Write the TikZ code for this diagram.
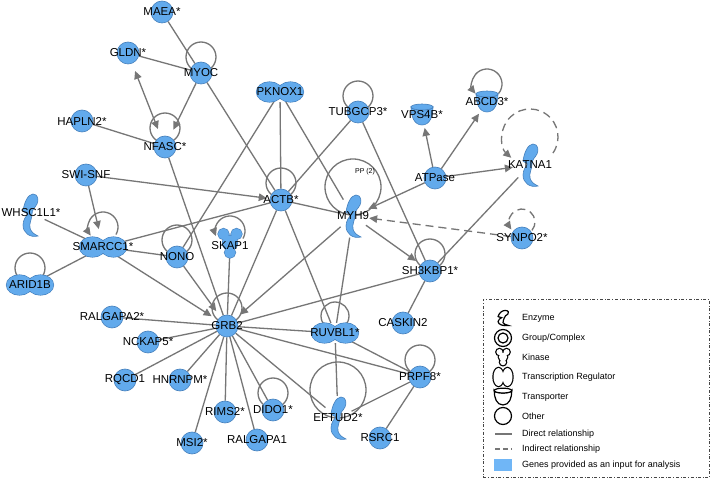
\documentclass[tikz,border=0pt]{standalone}
\usepackage{fontspec}
\setmainfont{Liberation Sans}
\usepackage{tikz}
\usetikzlibrary{arrows.meta,shapes.geometric,backgrounds}
\definecolor{gene-blue}{RGB}{98,170,236}
\definecolor{gene-rim}{RGB}{70,128,188}
\definecolor{link-gray}{RGB}{118,118,118}
\definecolor{key-blue}{RGB}{112,182,246}
\tikzset{
    gene-text/.style = {font=\fontsize{11.5}{12}\selectfont, inner sep=0pt,
        execute at begin node={\hbox to 0pt\bgroup\hss}, execute at end node={\hss\egroup}},
    gene-node/.style = {gene-text, circle, minimum size=22pt, fill=gene-blue, draw=gene-rim, line width=0.6pt},
    plain-node/.style = {gene-text, circle, minimum size=22pt},
    wide-node/.style = {gene-text, ellipse, minimum width=46pt, minimum height=20pt},
    tall-node/.style = {gene-text, ellipse, minimum width=28pt, minimum height=44pt},
    link/.style = {draw=link-gray, line width=1.3pt},
    acts/.style = {link, -{Triangle[length=8pt,width=7.5pt]}, shorten >=5pt},
    mutual/.style = {link, {Triangle[length=8pt,width=7.5pt]}-{Triangle[length=8pt,width=7.5pt]}, shorten >=8pt, shorten <=8pt},
    indirect/.style = {dash pattern=on 8pt off 5pt},
    key-text/.style = {font=\fontsize{9}{10}\selectfont, inner sep=0pt, anchor=west},
    shape-body/.style = {fill=gene-blue, draw=gene-rim, line width=0.6pt},
    shape-rim/.style = {draw=gene-rim, line width=1.2pt},
    shape-fill/.style = {fill=gene-blue},
    pics/enzyme/.style = {code={
        \path[shape-body] (-7,4) .. controls (-6,12) and (-2,21) .. (3,21)
            .. controls (8,21) and (9,15) .. (7,11) .. controls (5,7) and (2,6) .. (2,1)
            .. controls (2,-4) and (-1,-8) .. (0,-13) .. controls (1,-17) and (4,-19) .. (8,-21)
            .. controls (0,-23) and (-7,-18) .. (-7,-10) .. controls (-7,-5) and (-4,-1) .. (-2,1)
            .. controls (-4,2) and (-6,3) .. (-7,4) -- cycle;
    }},
    pics/transreg/.style = {code={
        \path[shape-rim] (-10.5,0) ellipse[x radius=13, y radius=10] (10.5,0) ellipse[x radius=13, y radius=10];
        \path[shape-fill] (-10.5,0) ellipse[x radius=13, y radius=10] (10.5,0) ellipse[x radius=13, y radius=10];
    }},
    pics/kinase/.style = {code={
        \path[shape-rim] (-6.5,9) circle[radius=5.5] (6.5,9) circle[radius=5.5] (0,-9.5) circle[radius=5.5] (0,0) circle[radius=7.5];
        \path[shape-fill] (-6.5,9) circle[radius=5.5] (6.5,9) circle[radius=5.5] (0,-9.5) circle[radius=5.5] (0,0) circle[radius=7.5];
    }},
    pics/transporter/.style = {code={
        \path[shape-body] (-11,8) .. controls (-11,-1) and (-8,-10) .. (0,-10) .. controls (8,-10) and (11,-1) .. (11,8)
            arc[start angle=0, end angle=-180, x radius=11, y radius=3] -- cycle;
        \path[shape-body] (0,8) ellipse[x radius=11, y radius=3];
    }},
}

\begin{document}
\begin{tikzpicture}[x=1pt, y=1pt]
\useasboundingbox (0,0) rectangle (710,-478);

% molecule shapes other than circles
\pic at (280,-92) {transreg};
\pic at (103,-247) {transreg};
\pic at (30,-285) {transreg};
\pic at (335,-333) {transreg};
\pic at (353,-216) {enzyme};
\pic at (530,-165) {enzyme};
\pic at (30,-215) {enzyme};
\pic at (338,-418) {enzyme};
\pic at (230,-243) {kinase};
\pic at (422,-115) {transporter};
\pic at (487,-102) {transporter};

% genes
\node[gene-node] (maea) at (162,-12) {MAEA*};
\node[gene-node] (gldn) at (128,-53) {GLDN*};
\node[gene-node] (myoc) at (201,-73) {MYOC};
\node[gene-node] (hapln2) at (82,-121) {HAPLN2*};
\node[gene-node] (nfasc) at (165,-147) {NFASC*};
\node[wide-node] (pknox1) at (280,-92) {PKNOX1};
\node[gene-node] (tubgcp3) at (358,-112) {TUBGCP3*};
\node[plain-node] (vps4b) at (422,-115) {VPS4B*};
\node[plain-node] (abcd3) at (487,-102) {ABCD3*};
\node[tall-node] (katna1) at (530,-165) {KATNA1};
\node[gene-node] (atpase) at (435,-178) {ATPase};
\node[gene-node] (swisnf) at (86,-175) {SWI-SNF};
\node[tall-node] (whsc1l1) at (31,-213) {WHSC1L1*};
\node[wide-node] (smarcc1) at (103,-247) {SMARCC1*};
\node[wide-node] (arid1b) at (30,-285) {ARID1B};
\node[gene-node] (nono) at (177,-257) {NONO};
\node[plain-node] (skap1) at (230,-246) {SKAP1};
\node[gene-node] (actb) at (281,-200) {ACTB*};
\node[tall-node] (myh9) at (353,-216) {MYH9};
\node[gene-node] (synpo2) at (522,-238) {SYNPO2*};
\node[gene-node] (sh3kbp1) at (430,-271) {SH3KBP1*};
\node[gene-node] (caskin2) at (403,-323) {CASKIN2};
\node[gene-node] (grb2) at (227,-326) {GRB2};
\node[wide-node] (ruvbl1) at (335,-333) {RUVBL1*};
\node[gene-node] (ralgapa2) at (112,-317) {RALGAPA2*};
\node[gene-node] (nckap5) at (148,-342) {NCKAP5*};
\node[gene-node] (rqcd1) at (125,-380) {RQCD1};
\node[gene-node] (hnrnpm) at (180,-380) {HNRNPM*};
\node[gene-node] (rims2) at (225,-412) {RIMS2*};
\node[gene-node] (msi2) at (192,-443) {MSI2*};
\node[gene-node] (ralgapa1) at (257,-440) {RALGAPA1};
\node[gene-node] (dido1) at (273,-410) {DIDO1*};
\node[tall-node] (eftud2) at (338,-418) {EFTUD2*};
\node[gene-node] (prpf8) at (420,-377) {PRPF8*};
\node[gene-node] (rsrc1) at (380,-438) {RSRC1};
\node[font=\fontsize{7}{8}\selectfont, inner sep=0pt] (pp-note) at (365,-172) {PP (2)};

\begin{pgfonlayer}{background}
\fill[white] (0,0) rectangle (710,-478);
% self loops
\draw[link] ([yshift=16pt]myoc.center) circle[radius=15pt];
\draw[link] ([yshift=19pt]nfasc.center) circle[radius=15pt];
\draw[link] ([yshift=17pt]arid1b.center) circle[radius=15pt];
\draw[link] ([yshift=17pt]nono.center) circle[radius=15pt];
\draw[link] ([yshift=17pt]actb.center) circle[radius=15pt];
\draw[link] ([yshift=16pt]tubgcp3.center) circle[radius=15pt];
\draw[link] ([yshift=17pt]sh3kbp1.center) circle[radius=15pt];
\draw[link] ([yshift=18pt]grb2.center) circle[radius=15pt];
\draw[link] ([yshift=17pt]prpf8.center) circle[radius=15pt];
\draw[link] ([yshift=17pt]dido1.center) circle[radius=15pt];
\draw[link] ([yshift=17pt]ruvbl1.center) circle[radius=14pt];
\draw[link] ([yshift=29pt]myh9.center) circle[radius=28pt];
\draw[link] ([yshift=28pt]eftud2.center) circle[radius=28pt];
\draw[acts, shorten >=0pt] ([yshift=20pt]smarcc1.center) ++(-30:15pt) arc[start angle=-30, end angle=215, radius=15pt];
\draw[acts, shorten >=0pt] ([yshift=15pt]skap1.center) ++(-30:15pt) arc[start angle=-30, end angle=200, radius=15pt];
\draw[acts, shorten >=0pt] ([yshift=18pt]abcd3.center) ++(-40:15pt) arc[start angle=-40, end angle=220, radius=15pt];
\draw[acts, indirect, shorten >=0pt] ([yshift=28pt]katna1.center) ++(-35:28pt) arc[start angle=-35, end angle=228, radius=28pt];
\draw[acts, indirect, shorten >=0pt] ([yshift=16pt]synpo2.center) ++(-40:13pt) arc[start angle=-40, end angle=215, radius=13pt];
% relationships
\draw[link] (maea) -- (myoc);
\draw[link] (gldn) -- (myoc);
\draw[mutual] (gldn) -- (nfasc);
\draw[acts, shorten >=8pt] (myoc) -- (nfasc);
\draw[link] (hapln2) -- (nfasc);
\draw[link] (myoc) -- (actb);
\draw[link] (nfasc) -- (grb2);
\draw[link] (pknox1) -- (nono);
\draw[link] (pknox1) -- (actb);
\draw[link] (pknox1) -- (myh9);
\draw[link] (tubgcp3) -- (actb);
\draw[link] (tubgcp3) -- (sh3kbp1);
\draw[acts, shorten >=3pt] (swisnf) -- (actb);
\draw[acts, shorten >=8pt] (swisnf) -- (smarcc1);
\draw[link] (whsc1l1) -- (smarcc1);
\draw[link] (arid1b) -- (smarcc1);
\draw[link] (smarcc1) -- (nono);
\draw[link] (smarcc1) -- (actb);
\draw[acts, shorten >=7pt] (smarcc1) -- (grb2);
\draw[acts, shorten >=7pt] (nono) -- (grb2);
\draw[link] (skap1) -- (grb2);
\draw[link] (actb) -- (myh9);
\draw[link] (actb) -- (grb2);
\draw[link] (actb) -- (ruvbl1);
\draw[acts, shorten >=2pt] (atpase) -- (myh9);
\draw[acts, shorten >=2pt] (atpase) -- (vps4b);
\draw[acts, shorten >=3pt] (atpase) -- (abcd3);
\draw[acts, shorten >=3pt] (atpase) -- (katna1);
\draw[acts, indirect, shorten >=2pt] (synpo2) -- (myh9);
\draw[acts, shorten >=6pt] (myh9) -- (sh3kbp1);
\draw[acts, shorten >=6pt] (myh9) -- (grb2);
\draw[link] (myh9) -- (ruvbl1);
\draw[link] (katna1) -- (sh3kbp1);
\draw[link] (sh3kbp1) -- (grb2);
\draw[link] (sh3kbp1) -- (caskin2);
\draw[link] (grb2) -- (ruvbl1);
\draw[link] (grb2) -- (prpf8);
\draw[link] (grb2) -- (eftud2);
\draw[link] (grb2) -- (dido1);
\draw[link] (grb2) -- (ralgapa1);
\draw[link] (grb2) -- (rims2);
\draw[link] (grb2) -- (msi2);
\draw[link] (grb2) -- (hnrnpm);
\draw[link] (grb2) -- (rqcd1);
\draw[link] (grb2) -- (nckap5);
\draw[link] (grb2) -- (ralgapa2);
\draw[link] (ruvbl1) -- (eftud2);
\draw[link] (ruvbl1) -- (prpf8);
\draw[link] (eftud2) -- (prpf8);
\draw[link] (prpf8) -- (rsrc1);
\end{pgfonlayer}

% legend
\node[draw={rgb,255:red,70;green,70;blue,70}, dash dot, line width=0.8pt, minimum width=226pt, minimum height=178pt,
    anchor=north west, inner sep=0pt] (key) at (483,-299) {};
\begin{scope}[shape-body/.style={draw=black, line width=1.2pt, fill=white},
    shape-rim/.style={draw=black, line width=2.4pt}, shape-fill/.style={fill=white}]
\pic[xscale=0.7, yscale=0.36] at (503,-318) {enzyme};
\draw[line width=1.2pt] (503,-338) circle[radius=8.5pt] (503,-338) circle[radius=5pt];
\pic[scale=0.55] at (503,-357) {kinase};
\path[shape-rim] (498.5,-377) ellipse[x radius=5, y radius=9] (507.5,-377) ellipse[x radius=5, y radius=9];
\path[shape-fill] (498.5,-377) ellipse[x radius=5, y radius=9] (507.5,-377) ellipse[x radius=5, y radius=9];
\pic[scale=0.8] at (503,-397) {transporter};
\draw[line width=1.2pt] (503,-416) circle[radius=8.5pt];
\end{scope}
\draw[link] (495,-434) -- (512,-434);
\draw[link, dash pattern=on 5pt off 3pt] (495,-449) -- (512,-449);
\fill[key-blue] (494,-459) rectangle (512,-471);
\node[key-text] (key-enzyme) at (522,-318) {Enzyme};
\node[key-text] (key-group) at (522,-338) {Group/Complex};
\node[key-text] (key-kinase) at (522,-357) {Kinase};
\node[key-text] (key-tr) at (522,-377) {Transcription Regulator};
\node[key-text] (key-transporter) at (522,-397) {Transporter};
\node[key-text] (key-other) at (522,-416) {Other};
\node[key-text] (key-direct) at (522,-434) {Direct relationship};
\node[key-text] (key-indirect) at (522,-449) {Indirect relationship};
\node[key-text] (key-input) at (522,-465) {Genes provided as an input for analysis};
\end{tikzpicture}
\end{document}
